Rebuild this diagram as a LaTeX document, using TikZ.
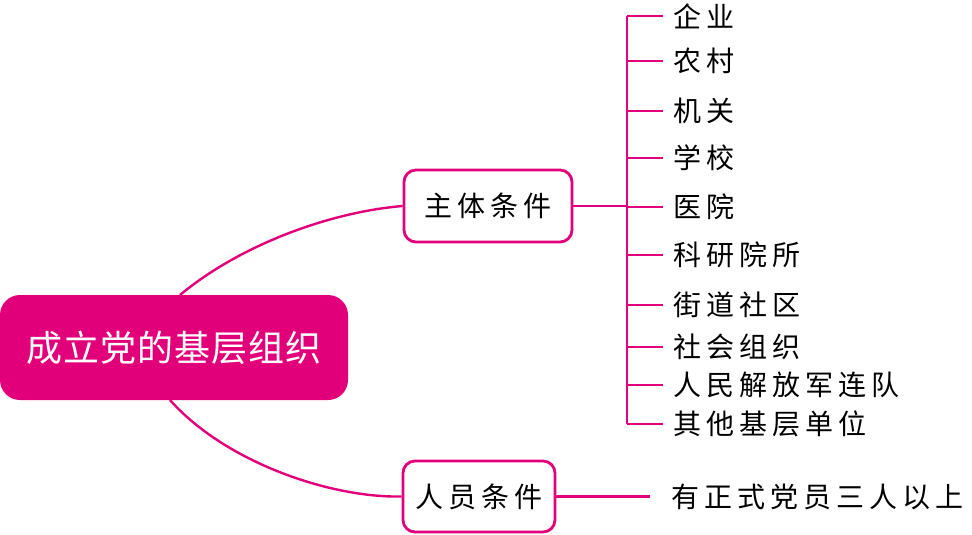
\documentclass[tikz,border=0pt]{standalone}
\usepackage{fontspec}
\newfontfamily\cjkroot[LetterSpace=3]{Noto Sans CJK SC}
\newfontfamily\cjk[LetterSpace=18]{Noto Sans CJK SC}
\definecolor{pinkc}{RGB}{226,0,122}
\begin{document}
\begin{tikzpicture}[x=1pt,y=-1pt,
  rootbox/.style={fill=pinkc,rounded corners=20pt,minimum width=348pt,minimum height=105pt,inner sep=0pt,text=white,font=\cjkroot\fontsize{36}{40}\selectfont},
  subbox/.style={draw=pinkc,line width=2.8pt,fill=white,rounded corners=12pt,inner sep=0pt,font=\cjk\fontsize{28}{32}\selectfont},
  leaf/.style={anchor=west,inner sep=0pt,font=\cjk\fontsize{28}{32}\selectfont},
  link/.style={draw=pinkc,line width=2.8pt},
  curvelink/.style={draw=pinkc,line width=2.4pt}]
\useasboundingbox (0,0) rectangle (972,535);
\node[rootbox] (root) at (174,347.5) {成立党的基层组织};
\node[subbox,minimum width=168pt,minimum height=72pt] (zt) at (488,206) {主体条件};
\node[subbox,minimum width=152pt,minimum height=71pt] (ry) at (479,496.5) {人员条件};
\coordinate (rtop) at (180,295);
\coordinate (rbot) at (170,400);
\draw[curvelink] (rtop) .. controls (240,245) and (330,212) .. (zt.west);
\draw[curvelink] (rbot) .. controls (225,462) and (330,498) .. (ry.west);
\coordinate (spine) at (627,206);
\coordinate (stop) at (627,16);
\coordinate (sbot) at (627,424);
\draw[link] (zt.east) -- (spine);
\draw[link] (stop) -- (sbot);
\foreach \n/\y/\t in {a/16/企业,b/61/农村,c/111/机关,d/158/学校,e/207/医院,f/255/科研院所,g/305/街道社区,h/347/社会组织,i/385/人民解放军连队,j/424/其他基层单位}{
  \node[leaf] (\n) at (673,\y) {\t};
  \coordinate (t\n) at (627,\y);
  \draw[link] (t\n) -- ++(36,0);
}
\node[leaf] (req) at (671,496.5) {有正式党员三人以上};
\coordinate (reqend) at (650,496.5);
\draw[link] (ry.east) -- (reqend);
\end{tikzpicture}
\end{document}
